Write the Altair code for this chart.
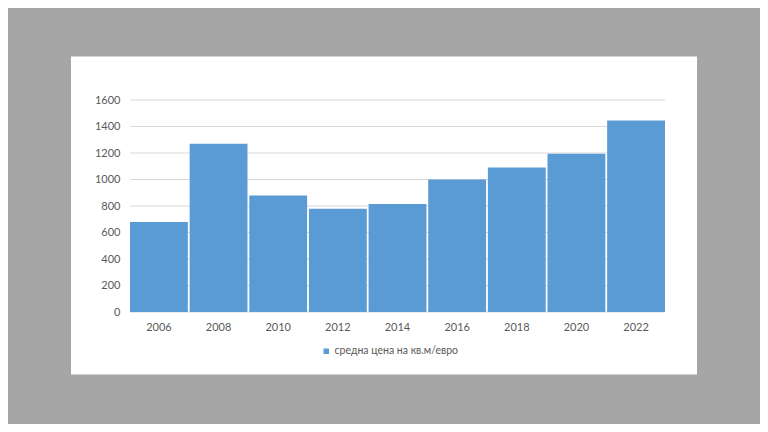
import altair as alt
import pandas as pd

years = ["2006", "2008", "2010", "2012", "2014", "2016", "2018", "2020", "2022"]
prices = [680, 1270, 880, 780, 815, 1000, 1090, 1195, 1445]
series_name = "средна цена на кв.м/евро"
grid_values = [0, 200, 400, 600, 800, 1000, 1200, 1400, 1600]

df = pd.DataFrame({"year": years, "price": prices, "series": [series_name] * len(years)})
grid_df = pd.DataFrame({"v": grid_values})

FONT = "Lato"
LABEL_COLOR = "#595959"
BAR_COLOR = "#5b9bd5"

y_scale = alt.Scale(domain=[0, 1600], nice=False)
y_axis = alt.Axis(title=None, domain=False, ticks=False, grid=False, format="d",
                  values=grid_values, labelFont=FONT, labelFontSize=11,
                  labelColor=LABEL_COLOR, labelPadding=10, zindex=1)

panel = alt.Chart(alt.Data(values=[{}])).mark_rect(fill="white", stroke=None).encode(
    x=alt.value(-59), x2=alt.value(567), y=alt.value(-43.5), y2=alt.value(274.5)
)

grid = alt.Chart(grid_df).mark_rule(color="#d9d9d9", strokeWidth=1).encode(
    y=alt.Y("v:Q", scale=y_scale, axis=y_axis),
    x=alt.value(0), x2=alt.value(535),
)

bars = alt.Chart(df).mark_bar().encode(
    x=alt.X("year:N", sort=years,
            scale=alt.Scale(paddingInner=0.03, paddingOuter=0.0),
            axis=alt.Axis(title=None, domain=False, ticks=False, labelAngle=0,
                          labelFont=FONT, labelFontSize=11, labelColor=LABEL_COLOR,
                          labelPadding=9, zindex=1)),
    y=alt.Y("price:Q", scale=y_scale, axis=y_axis),
    color=alt.Color("series:N", scale=alt.Scale(range=[BAR_COLOR]),
                    legend=alt.Legend(title=None, orient="none", legendX=191, legendY=246,
                                      symbolType="square", symbolSize=30,
                                      symbolStrokeWidth=0, labelOffset=3,
                                      labelFont=FONT, labelFontSize=10.5,
                                      labelColor=LABEL_COLOR)),
)

chart = alt.layer(panel, grid, bars).properties(
    width=535, height=212,
    background="#a6a6a6",
    padding={"left": 122, "top": 92, "right": 95, "bottom": 112},
    autosize=alt.AutoSizeParams(type="none"),
).configure_view(stroke=None)

chart.save("out.html", embed_options={"renderer": "svg", "actions": False})
